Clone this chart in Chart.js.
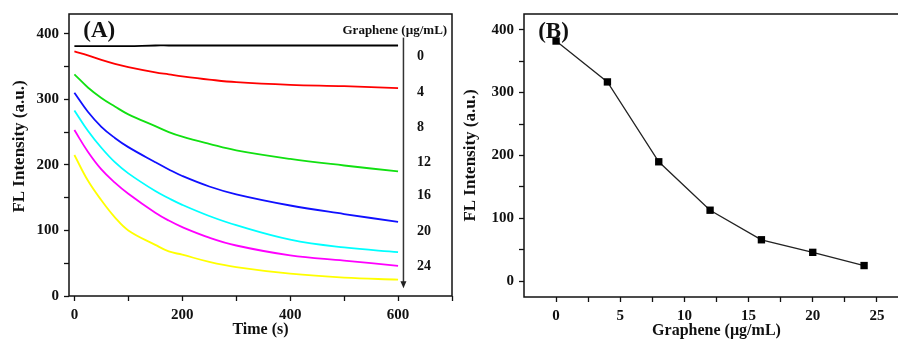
<!DOCTYPE html>
<html><head><meta charset="utf-8">
<script src="https://cdn.jsdelivr.net/npm/chart.js@4.4.1/dist/chart.umd.min.js"></script>
<style>
html,body{margin:0;padding:0;background:#fff;overflow:hidden;width:898px;height:339px;}
#ca{position:absolute;left:0;top:0;}
#cb{position:absolute;left:460px;top:0;}
</style></head><body>
<canvas id="ca" width="460" height="339"></canvas>
<canvas id="cb" width="460" height="339"></canvas>
<script>
// ---------- Panel A data ----------
const timeS   = [0, 25, 50, 75, 100, 150, 175, 200, 250, 300, 400, 500, 600];
const fl0ug   = [381, 381, 381, 381, 381, 382, 382, 382, 382, 382, 382, 382, 382];
const fl4ug   = [373, 367, 360, 354, 349, 341, 338, 335, 330, 326, 322, 320, 317];
const fl8ug   = [338, 318, 302, 289, 277, 259, 250, 243, 232, 222, 209, 199, 190];
const fl12ug  = [310, 281, 258, 241, 227, 204, 193, 183, 167, 155, 138, 125, 113];
const fl16ug  = [283, 252, 226, 204, 187, 160, 149, 139, 122, 108, 86, 74, 67];
const fl20ug  = [253, 220, 193, 173, 156, 127, 115, 105, 89, 77, 62, 54, 46];
const fl24ug  = [215, 176, 146, 120, 100, 78, 68, 63, 52, 44, 34, 28, 25];
const seriesLabels = ['0', '4', '8', '12', '16', '20', '24'];
const seriesColors = ['#000000', '#ff0000', '#11e011', '#1010ff', '#00ffff', '#ff00ff', '#ffff00'];
const aXTicks = [0, 100, 200, 300, 400, 500, 600, 700];
const aYTicks = [0, 50, 100, 150, 200, 250, 300, 350, 400];

// ---------- Panel B data ----------
const grapheneConc = [0, 4, 8, 12, 16, 20, 24];
const flIntensity  = [382, 317, 190, 113, 66, 46, 25];
const bXTicks = [0, 2.5, 5, 7.5, 10, 12.5, 15, 17.5, 20, 22.5, 25, 27.5];
const bYTicks = [0, 50, 100, 150, 200, 250, 300, 350, 400];

const FONT = "'Liberation Serif', 'Times New Roman', serif";

const framePlugin = {
  id: 'frame',
  afterDraw(chart) {
    const {ctx, chartArea: a} = chart;
    ctx.save();
    ctx.strokeStyle = '#111';
    ctx.lineWidth = 1.5;
    ctx.strokeRect(a.left, a.top, a.right - a.left, a.bottom - a.top);
    ctx.restore();
  }
};

const annoPlugin = {
  id: 'anno',
  afterDatasetsDraw(chart, args, opts) {
    const {ctx} = chart;
    const xs = chart.scales.x, ys = chart.scales.y;
    ctx.save();
    ctx.fillStyle = '#111';
    (opts.texts || []).forEach(t => {
      ctx.font = 'bold ' + t.size + 'px ' + FONT;
      ctx.textAlign = t.align || 'center';
      ctx.textBaseline = 'middle';
      ctx.fillText(t.text, xs.getPixelForValue(t.x), ys.getPixelForValue(t.y));
    });
    if (opts.arrow) {
      const ar = opts.arrow;
      const px = xs.getPixelForValue(ar.x);
      const y1 = ys.getPixelForValue(ar.y1), y2 = ys.getPixelForValue(ar.y2);
      ctx.strokeStyle = '#333';
      ctx.lineWidth = 1.5;
      ctx.beginPath(); ctx.moveTo(px, y1); ctx.lineTo(px, y2 - 5); ctx.stroke();
      ctx.fillStyle = '#222';
      ctx.beginPath(); ctx.moveTo(px - 3, y2 - 7); ctx.lineTo(px + 3, y2 - 7); ctx.lineTo(px, y2); ctx.closePath(); ctx.fill();
    }
    ctx.restore();
  }
};

function axisCommon(tickVals, labelEvery, extra) {
  return Object.assign({
    type: 'linear',
    afterBuildTicks: s => { s.ticks = tickVals.map(v => ({value: v})); },
    ticks: {
      color: '#111', padding: 5, autoSkip: false, maxRotation: 0,
      font: {family: FONT, size: 15, weight: 'bold'},
      callback: v => (Math.abs(v / labelEvery - Math.round(v / labelEvery)) < 1e-9 ? String(v) : '')
    },
    grid: {display: true, drawOnChartArea: false, drawTicks: true, tickLength: 5, tickColor: '#111', tickWidth: 1.3},
    border: {display: false}
  }, extra);
}

// ---------- Chart A ----------
const seriesA = [fl0ug, fl4ug, fl8ug, fl12ug, fl16ug, fl20ug, fl24ug];
new Chart(document.getElementById('ca'), {
  type: 'line',
  data: {
    datasets: seriesA.map((arr, i) => ({
      label: seriesLabels[i],
      data: timeS.map((t, j) => ({x: t, y: arr[j]})),
      borderColor: seriesColors[i],
      borderWidth: 1.8,
      pointRadius: 0,
      tension: 0.4,
      fill: false
    }))
  },
  options: {
    responsive: false, animation: false,
    layout: {padding: {top: 13, right: 8, left: 0, bottom: 0}},
    plugins: {
      legend: {display: false}, tooltip: {enabled: false},
      anno: {
        texts: [
          {text: '(A)', x: 46, y: 404, size: 23},
          {text: 'Graphene (µg/mL)', x: 594, y: 405, size: 13},
          ...seriesLabels.map((s, i) => ({text: s, x: 635, y: [365, 310, 257, 203, 153, 99, 45][i], size: 14, align: 'left'}))
        ],
        arrow: {x: 610, y1: 394, y2: 12}
      }
    },
    scales: {
      x: axisCommon(aXTicks, 200, {
        min: -10, max: 700,
        afterFit: s => { s.height = 43; },
        title: {display: true, text: 'Time (s)', color: '#111', font: {family: FONT, size: 16, weight: 'bold', lineHeight: 1.1}, padding: {top: 0, bottom: 0}}
      }),
      y: axisCommon(aYTicks, 100, {
        min: 0, max: 430,
        afterFit: s => { s.width = 69; },
        title: {display: true, text: '    FL Intensity (a.u.)', color: '#111', font: {family: FONT, size: 17, weight: 'bold', lineHeight: 1.2}, padding: {top: 9, bottom: 0}}
      })
    }
  },
  plugins: [framePlugin, annoPlugin]
});

// ---------- Chart B ----------
new Chart(document.getElementById('cb'), {
  type: 'line',
  data: {
    datasets: [{
      data: grapheneConc.map((c, i) => ({x: c, y: flIntensity[i]})),
      borderColor: '#222',
      borderWidth: 1.3,
      pointStyle: 'rect',
      pointRadius: 5.2,
      pointBackgroundColor: '#000',
      pointBorderWidth: 0,
      tension: 0,
      fill: false
    }]
  },
  options: {
    responsive: false, animation: false,
    layout: {padding: {top: 13, right: 11, left: 0, bottom: 0}},
    plugins: {
      legend: {display: false}, tooltip: {enabled: false},
      anno: {texts: [{text: '(B)', x: -0.2, y: 396, size: 23}]}
    },
    scales: {
      x: axisCommon(bXTicks, 5, {
        min: -2.5, max: 27.5,
        afterFit: s => { s.height = 42; },
        title: {display: true, text: 'Graphene (µg/mL)', color: '#111', font: {family: FONT, size: 16, weight: 'bold', lineHeight: 1}, padding: {top: 0, bottom: 0}}
      }),
      y: axisCommon(bYTicks, 100, {
        min: -25, max: 425,
        afterFit: s => { s.width = 64; },
        title: {display: true, text: 'FL Intensity (a.u.)', color: '#111', font: {family: FONT, size: 17, weight: 'bold', lineHeight: 1.2}, padding: {top: 0, bottom: 0}}
      })
    }
  },
  plugins: [framePlugin, annoPlugin]
});
</script>
</body></html>
